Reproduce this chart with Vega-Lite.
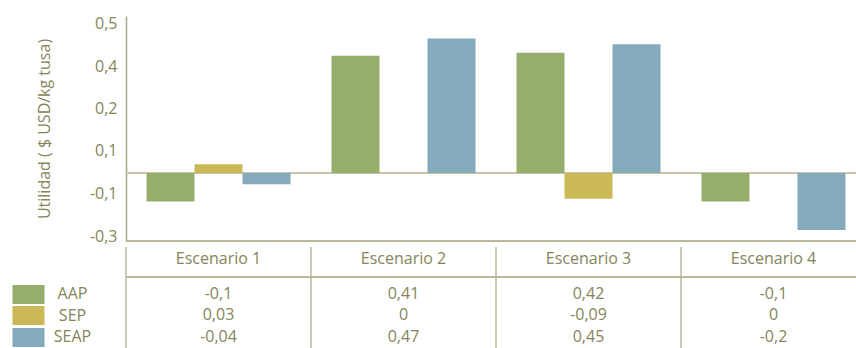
{
  "$schema": "https://vega.github.io/schema/vega-lite/v6.json",
  "padding": {"left": 2, "top": 15, "right": 0, "bottom": 0},
  "spacing": 0,
  "bounds": "flush",
  "config": {
    "view": {"stroke": null},
    "font": "Open Sans",
    "locale": {"number": {"decimal": ",", "thousands": ".", "grouping": [3], "currency": ["$", ""], "minus": "-"}},
    "axis": {"labelColor": "#85855a", "titleColor": "#85855a", "labelFont": "Open Sans", "titleFont": "Open Sans"}
  },
  "datasets": {
    "datos": [
      {"escenario": "Escenario 1", "serie": "AAP", "valor": -0.1},
      {"escenario": "Escenario 1", "serie": "SEP", "valor": 0.03},
      {"escenario": "Escenario 1", "serie": "SEAP", "valor": -0.04},
      {"escenario": "Escenario 2", "serie": "AAP", "valor": 0.41},
      {"escenario": "Escenario 2", "serie": "SEP", "valor": 0},
      {"escenario": "Escenario 2", "serie": "SEAP", "valor": 0.47},
      {"escenario": "Escenario 3", "serie": "AAP", "valor": 0.42},
      {"escenario": "Escenario 3", "serie": "SEP", "valor": -0.09},
      {"escenario": "Escenario 3", "serie": "SEAP", "valor": 0.45},
      {"escenario": "Escenario 4", "serie": "AAP", "valor": -0.1},
      {"escenario": "Escenario 4", "serie": "SEP", "valor": 0},
      {"escenario": "Escenario 4", "serie": "SEAP", "valor": -0.2}
    ]
  },
  "resolve": {"scale": {"x": "independent", "y": "independent", "color": "independent"}},
  "vconcat": [
    {
      "width": 740,
      "height": 225,
      "data": {"name": "datos"},
      "encoding": {
        "x": {
          "field": "escenario", "type": "nominal",
          "scale": {"paddingInner": 0, "paddingOuter": 0},
          "axis": null
        }
      },
      "layer": [
        {
          "mark": {"type": "rule", "color": "#c8c2aa", "strokeWidth": 1.5},
          "encoding": {"x": null, "y": {"datum": 0, "type": "quantitative"}}
        },
        {
          "mark": {"type": "rule", "color": "#bdb89c", "strokeWidth": 1.5},
          "encoding": {"x": null, "y": {"datum": -0.2381, "type": "quantitative"}}
        },
        {
          "mark": {"type": "bar"},
          "encoding": {
            "xOffset": {
              "field": "serie", "type": "nominal", "sort": ["AAP", "SEP", "SEAP"],
              "scale": {"paddingInner": 0, "paddingOuter": 0.427}
            },
            "y": {
              "field": "valor", "type": "quantitative",
              "scale": {"domain": [-0.2381, 0.5487], "nice": false, "zero": false},
              "axis": {
                "title": "Utilidad ( $ USD/kg tusa)",
                "titleFontSize": 16, "titleFontWeight": "normal", "titlePadding": 37,
                "values": [0.5217, 0.3736, 0.2241, 0.0795, -0.0735, -0.2216],
                "labelExpr": "datum.value > 0.45 ? '0,5' : datum.value > 0.3 ? '0,4' : datum.value > 0.15 ? '0,2' : datum.value > 0 ? '0,1' : datum.value > -0.15 ? '-0,1' : '-0,3'",
                "labelFontSize": 16, "labelPadding": 9,
                "ticks": false, "grid": false,
                "domain": true, "domainColor": "#a8a585", "domainWidth": 1.5
              }
            },
            "color": {
              "field": "serie", "type": "nominal",
              "scale": {"domain": ["AAP", "SEP", "SEAP"], "range": ["#95ae6c", "#cbb857", "#83abbb"]},
              "legend": null
            }
          }
        }
      ]
    },
    {
      "width": 740,
      "height": 36,
      "data": {"name": "datos"},
      "transform": [{"filter": "datum.serie === 'AAP'"}],
      "layer": [
        {
          "mark": {"type": "rule", "color": "#bdb89c", "strokeWidth": 1.5},
          "encoding": {
            "x": {"field": "escenario", "type": "nominal", "bandPosition": 0,
                  "scale": {"paddingInner": 0, "paddingOuter": 0}, "axis": null},
            "y": {"datum": 0, "type": "quantitative", "scale": {"domain": [0, 1.2], "nice": false, "zero": false}, "axis": null},
            "y2": {"datum": 1}
          }
        },
        {
          "mark": {"type": "rule", "color": "#bdb89c", "strokeWidth": 1.5},
          "encoding": {"y": {"datum": 0, "type": "quantitative"}}
        },
        {
          "mark": {"type": "text", "fontSize": 16, "color": "#85855a", "baseline": "middle"},
          "encoding": {
            "x": {"field": "escenario", "type": "nominal"},
            "y": {"datum": 0.6, "type": "quantitative"},
            "text": {"field": "escenario"}
          }
        }
      ]
    },
    {
      "width": 740,
      "height": 72,
      "data": {"name": "datos"},
      "layer": [
        {
          "mark": {"type": "rule", "color": "#bdb89c", "strokeWidth": 1.5},
          "transform": [{"filter": "datum.serie === 'AAP'"}],
          "encoding": {
            "x": {"field": "escenario", "type": "nominal", "bandPosition": 0,
                  "scale": {"paddingInner": 0, "paddingOuter": 0}, "axis": null}
          }
        },
        {
          "mark": {"type": "text", "fontSize": 16, "color": "#85855a", "baseline": "middle"},
          "encoding": {
            "x": {"field": "escenario", "type": "nominal"},
            "y": {
              "field": "serie", "type": "nominal",
              "scale": {"type": "point", "domain": ["AAP", "SEP", "SEAP"], "padding": 0.674, "align": 0.586},
              "axis": {
                "orient": "left", "title": null, "domain": false, "grid": false, "offset": 82,
                "ticks": true, "tickSize": 32, "tickWidth": 19, "tickCap": "butt",
                "tickColor": {"condition": [
                  {"test": "datum.value === 'AAP'", "value": "#95ae6c"},
                  {"test": "datum.value === 'SEP'", "value": "#cbb857"}
                ], "value": "#83abbb"},
                "labelPadding": -60, "labelAlign": "center", "labelFontSize": 16, "labelBaseline": "middle"
              }
            },
            "text": {"field": "valor", "type": "quantitative", "format": "~r"}
          }
        }
      ]
    }
  ]
}
